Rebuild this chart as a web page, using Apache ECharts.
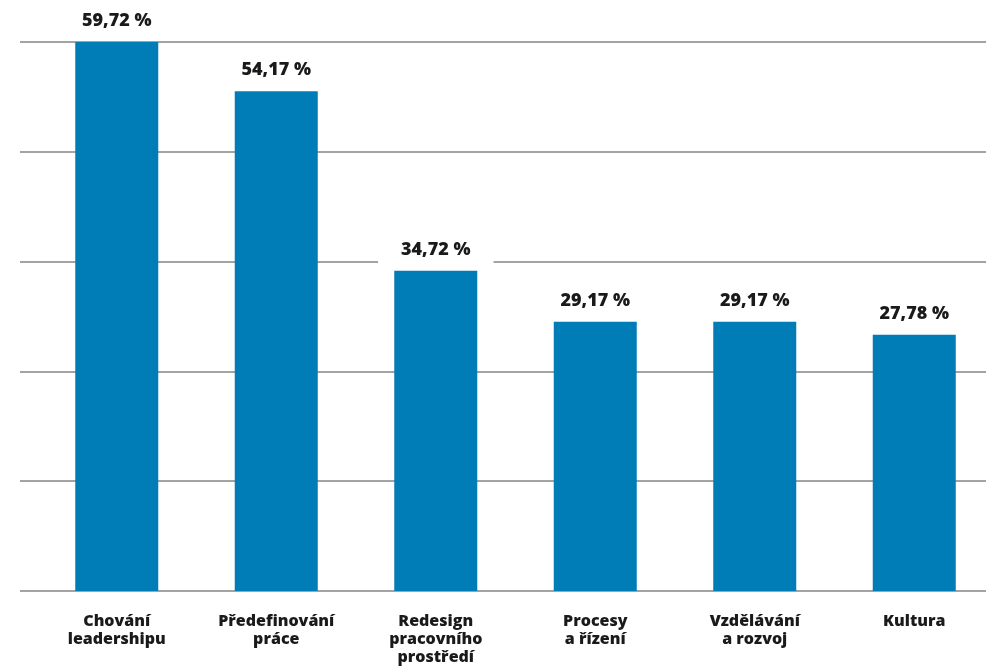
<!DOCTYPE html>
<html>
<head>
<meta charset="utf-8">
<script src="https://cdn.jsdelivr.net/npm/echarts@6/dist/echarts.min.js"></script>
<style>
html,body{margin:0;padding:0;background:#fff;}
#chart{width:986px;height:667px;}
</style>
</head>
<body>
<div id="chart"></div>
<script>
const categories = ['Chování\nleadershipu', 'Předefinování\npráce', 'Redesign\npracovního\nprostředí', 'Procesy\na řízení', 'Vzdělávání\na rozvoj', 'Kultura'];
const values = [59.72, 54.17, 34.72, 29.17, 29.17, 27.78];
const axisMin = 0, axisMax = 59.5, axisInterval = 11.9;

const FONT = '"Open Sans", "Noto Sans", sans-serif';
const chart = echarts.init(document.getElementById('chart'), null, {renderer: 'canvas'});
chart.setOption({
  animation: false,
  backgroundColor: '#ffffff',
  grid: [
    {left: 20, right: 0, top: 42, height: 549, outerBoundsMode: 'none'},
    {left: 37, width: 957, top: 42, height: 549, outerBoundsMode: 'none'}
  ],
  xAxis: [
    {gridIndex: 0, type: 'category', data: categories, show: false},
    {gridIndex: 1, type: 'category', data: categories,
     axisLine: {show: false}, axisTick: {show: false},
     axisLabel: {interval: 0, margin: 21, color: '#1a1a1a', fontFamily: FONT, fontWeight: 800, fontSize: 16, lineHeight: 18}}
  ],
  yAxis: [
    {gridIndex: 0, type: 'value', min: axisMin, max: axisMax, interval: axisInterval,
     axisLine: {show: false}, axisTick: {show: false}, axisLabel: {show: false},
     splitLine: {show: true, lineStyle: {color: '#858585', width: 1.6}}},
    {gridIndex: 1, type: 'value', min: axisMin, max: axisMax, interval: axisInterval, show: false,
     splitLine: {show: false}}
  ],
  series: [{
    type: 'bar',
    xAxisIndex: 1, yAxisIndex: 1,
    data: values,
    barWidth: 83,
    clip: true,
    itemStyle: {color: '#007cb6'},
    z: 5,
    label: {
      show: true, position: 'top', distance: 7,
      formatter: p => p.value.toFixed(2).replace('.', ',') + ' %',
      color: '#1a1a1a', fontFamily: FONT, fontWeight: 800, fontSize: 18, lineHeight: 20,
      backgroundColor: '#ffffff', padding: [4, 23, 4, 23]
    }
  }]
});
</script>
</body>
</html>
